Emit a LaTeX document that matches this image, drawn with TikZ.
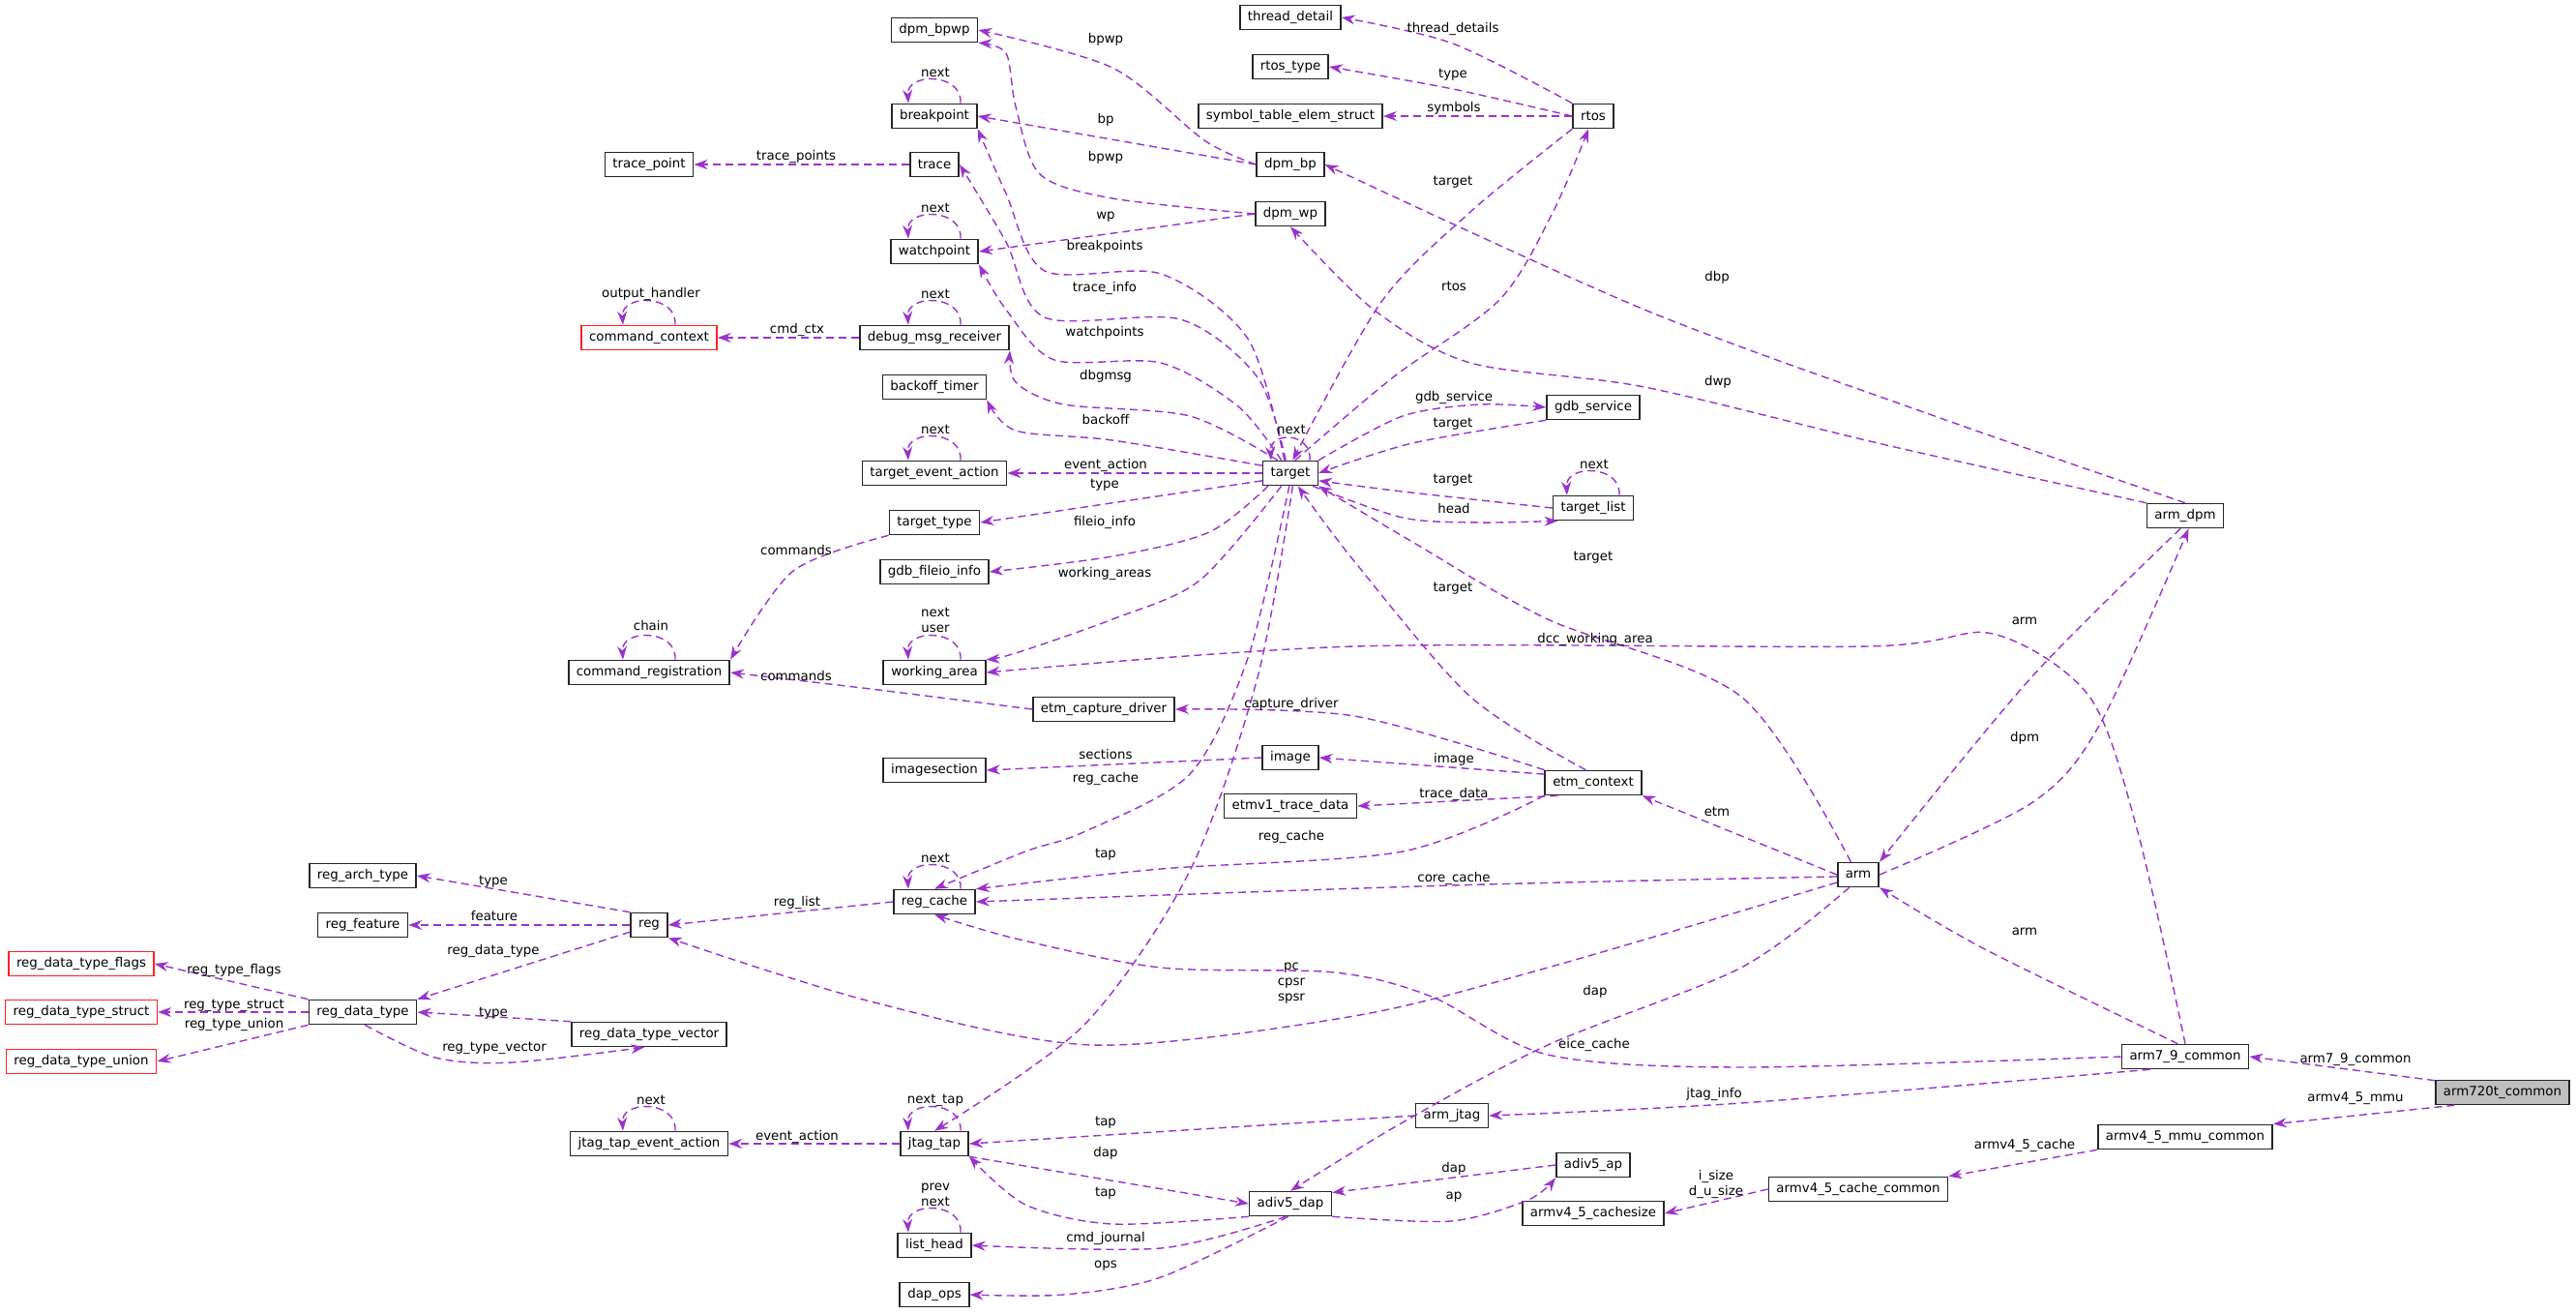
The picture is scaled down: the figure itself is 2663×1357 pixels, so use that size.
\documentclass[tikz,border=0pt]{standalone}
\usepackage{fontspec}
\setmainfont{DejaVu Sans}
\usetikzlibrary{arrows.meta}
\definecolor{ec}{HTML}{9A32CD}
\definecolor{rb}{HTML}{FF2020}
\begin{document}
\begin{tikzpicture}[x=0.01cm,y=-0.01cm,
 box/.style={draw=black!85,line width=0.45pt,minimum height=0.25cm,inner xsep=0.08cm,inner ysep=0pt,font=\fontsize{3.8}{4.2}\selectfont},
 rbox/.style={box,draw=rb},
 lab/.style={inner sep=0pt,font=\fontsize{3.8}{4.6}\selectfont,align=center},
 e/.style={draw=ec,line width=0.4pt,dash pattern=on 0.08cm off 0.05cm,-{Stealth[length=0.14cm,width=0.1cm]}}]
\useasboundingbox (0,0) rectangle (2663,1357);
% nodes
\node[box] (thread_detail) at (1334,18) {thread\_detail};
\node[box] (rtos_type) at (1334,69) {rtos\_type};
\node[box] (symbol) at (1334,120) {symbol\_table\_elem\_struct};
\node[box] (rtos) at (1647,120) {rtos};
\node[box] (dpm_bpwp) at (966,31) {dpm\_bpwp};
\node[box] (breakpoint) at (966,120) {breakpoint};
\node[box] (trace_point) at (671,170) {trace\_point};
\node[box] (trace) at (966,170) {trace};
\node[box] (dpm_bp) at (1334,170) {dpm\_bp};
\node[box] (dpm_wp) at (1334,221) {dpm\_wp};
\node[box] (watchpoint) at (966,260) {watchpoint};
\node[rbox] (command_context) at (671,349) {command\_context};
\node[box] (dmr) at (966,349) {debug\_msg\_receiver};
\node[box] (backoff_timer) at (966,400) {backoff\_timer};
\node[box] (gdb_service) at (1647,421) {gdb\_service};
\node[box] (tea) at (966,489) {target\_event\_action};
\node[box] (target) at (1334,489) {target};
\node[box] (target_list) at (1647,525) {target\_list};
\node[box] (target_type) at (966,540) {target\_type};
\node[box] (arm_dpm) at (2259,533) {arm\_dpm};
\node[box] (gdb_fileio_info) at (966,591) {gdb\_fileio\_info};
\node[box] (working_area) at (966,695) {working\_area};
\node[box] (command_registration) at (671,695) {command\_registration};
\node[box] (etm_capture_driver) at (1141,733) {etm\_capture\_driver};
\node[box] (image) at (1334,783) {image};
\node[box] (imagesection) at (966,796) {imagesection};
\node[box] (etm_context) at (1647,809) {etm\_context};
\node[box] (etmv1) at (1334,833) {etmv1\_trace\_data};
\node[box] (arm) at (1921,904) {arm};
\node[box] (reg_cache) at (966,932) {reg\_cache};
\node[box] (reg_arch_type) at (375,905) {reg\_arch\_type};
\node[box] (reg_feature) at (375,956) {reg\_feature};
\node[box] (reg) at (671,956) {reg};
\node[rbox] (rdt_flags) at (84,996) {reg\_data\_type\_flags};
\node[rbox] (rdt_struct) at (84,1046) {reg\_data\_type\_struct};
\node[rbox] (rdt_union) at (84,1097) {reg\_data\_type\_union};
\node[box] (rdt) at (375,1046) {reg\_data\_type};
\node[box] (rdt_vector) at (671,1069) {reg\_data\_type\_vector};
\node[box] (arm79) at (2259,1092) {arm7\_9\_common};
\node[box,fill=black!25] (arm720t) at (2587,1129) {arm720t\_common};
\node[box] (mmu) at (2259,1175) {armv4\_5\_mmu\_common};
\node[box] (cache_common) at (1921,1229) {armv4\_5\_cache\_common};
\node[box] (arm_jtag) at (1501,1153) {arm\_jtag};
\node[box] (jtea) at (671,1182) {jtag\_tap\_event\_action};
\node[box] (jtag_tap) at (966,1182) {jtag\_tap};
\node[box] (adiv5_ap) at (1647,1204) {adiv5\_ap};
\node[box] (adiv5_dap) at (1334,1244) {adiv5\_dap};
\node[box] (cachesize) at (1647,1254) {armv4\_5\_cachesize};
\node[box] (list_head) at (966,1287) {list\_head};
\node[box] (dap_ops) at (966,1338) {dap\_ops};
% self loops
\foreach \n in {breakpoint,watchpoint,dmr,tea,working_area,reg_cache,jtag_tap,jtea,list_head,command_context,command_registration,target_list}
  \draw[e] ([xshift=0.27cm]\n.north) .. controls +(2,-32) and +(-2,-32) .. ([xshift=-0.27cm]\n.north);
\draw[e] ([xshift=0.2cm]target.north) .. controls +(2,-30) and +(-2,-30) .. ([xshift=-0.2cm]target.north);
% edges
\draw[e] plot[smooth,tension=0.5] coordinates {(rtos.north west) (1502,45) (thread_detail.east)};
\draw[e] plot[smooth,tension=0.5] coordinates {(rtos.west) (1502,92) (rtos_type.east)};
\draw[e] (rtos.west) -- (symbol.east);
\draw[e] plot[smooth,tension=0.5] coordinates {(target.70) (1440,390) (1550,310) (1605,220) (rtos.250)};
\draw[e] plot[smooth,tension=0.5] coordinates {(rtos.south west) (1520,219) (1428,312) (target.80)};
\draw[e] plot[smooth,tension=0.5] coordinates {(dpm_bp.west) (1245,145) (1150,70) (dpm_bpwp.east)};
\draw[e] (dpm_bp.west) -- (breakpoint.east);
\draw[e] plot[smooth,tension=0.5] coordinates {(dpm_wp.west) (1150,205) (1075,180) (1050,110) (1040,55) (dpm_bpwp.south east)};
\draw[e] (dpm_wp.west) -- (watchpoint.east);
\draw[e] plot[smooth,tension=0.5] coordinates {(target.115) (1290,350) (1200,283) (1080,280) (1040,200) (breakpoint.south east)};
\draw[e] plot[smooth,tension=0.5] coordinates {(target.110) (1300,390) (1220,330) (1080,328) (1040,250) (trace.east)};
\draw[e] plot[smooth,tension=0.5] coordinates {(target.125) (1280,420) (1200,375) (1090,372) (1040,320) (watchpoint.south east)};
\draw[e] plot[smooth,tension=0.5] coordinates {(target.135) (1230,430) (1100,418) (1050,395) (dmr.south east)};
\draw[e] plot[smooth,tension=0.5] coordinates {(target.165) (1150,455) (1050,445) (backoff_timer.south east)};
\draw[e] (target.west) -- (tea.east);
\draw[e] (target.195) -- (target_type.east);
\draw[e] plot[smooth,tension=0.5] coordinates {(target.210) (1250,550) (1150,575) (gdb_fileio_info.east)};
\draw[e] plot[smooth,tension=0.5] coordinates {(target.235) (1240,600) (1150,640) (1050,675) (working_area.north east)};
\draw[e] plot[smooth,tension=0.5] coordinates {(target.north east) (1450,430) (1530,418) (gdb_service.west)};
\draw[e] plot[smooth,tension=0.5] coordinates {(gdb_service.south west) (1460,458) (target.east)};
\draw[e] plot[smooth,tension=0.5] coordinates {(target_list.west) (1450,508) (target.345)};
\draw[e] plot[smooth,tension=0.5] coordinates {(target.330) (1450,535) (1530,540) (target_list.200)};
\draw[e] plot[smooth,tension=0.5] coordinates {(etm_context.120) (1520,720) (1400,580) (target.300)};
\draw[e] plot[smooth,tension=0.5] coordinates {(arm.120) (1800,720) (1600,640) (1460,560) (target.south east)};
\draw[e] plot[smooth,tension=0.5] coordinates {(target.265) (1290,680) (1230,800) (1120,860) (1060,880) (reg_cache.north)};
\draw[e] plot[smooth,tension=0.5] coordinates {(target.280) (1300,700) (1230,900) (1120,1060) (jtag_tap.north)};
\draw[e] (trace.west) -- (trace_point.east);
\draw[e] (dmr.west) -- (command_context.east);
\draw[e] plot[smooth,tension=0.5] coordinates {(target_type.south west) (820,590) (command_registration.north east)};
\draw[e] plot[smooth,tension=0.5] coordinates {(etm_capture_driver.west) (900,712) (command_registration.east)};
\draw[e] plot[smooth,tension=0.5] coordinates {(arm_dpm.north) (2000,430) (1700,320) (dpm_bp.east)};
\draw[e] plot[smooth,tension=0.5] coordinates {(arm_dpm.north west) (1950,460) (1700,400) (1520,375) (1420,320) (dpm_wp.south)};
\draw[e] plot[smooth,tension=0.5] coordinates {(arm_dpm.250) (2100,700) (arm.north east)};
\draw[e] plot[smooth,tension=0.5] coordinates {(arm.east) (2100,830) (2170,750) (arm_dpm.285)};
\draw[e] plot[smooth,tension=0.5] coordinates {(arm79.north) (2210,860) (2160,720) (2060,655) (1930,668) (1400,668) (working_area.east)};
\draw[e] plot[smooth,tension=0.5] coordinates {(arm79.120) (2050,980) (arm.south east)};
\draw[e] plot[smooth,tension=0.5] coordinates {(arm79.west) (1800,1103) (1600,1090) (1480,1030) (1380,1005) (1200,1000) (1050,970) (reg_cache.south)};
\draw[e] plot[smooth,tension=0.5] coordinates {(arm79.200) (1800,1140) (arm_jtag.east)};
\draw[e] (arm.west) -- (etm_context.south east);
\draw[e] plot[smooth,tension=0.5] coordinates {(arm.185) (1500,915) (reg_cache.east)};
\draw[e] plot[smooth,tension=0.5] coordinates {(arm.200) (1600,1000) (1400,1050) (1130,1080) (900,1035) (reg.south east)};
\draw[e] plot[smooth,tension=0.5] coordinates {(arm.235) (1800,1000) (1600,1080) (1450,1160) (adiv5_dap.north)};
\draw[e] plot[smooth,tension=0.5] coordinates {(etm_context.north west) (1400,740) (etm_capture_driver.east)};
\draw[e] (etm_context.170) -- (image.east);
\draw[e] (etm_context.200) -- (etmv1.east);
\draw[e] plot[smooth,tension=0.5] coordinates {(etm_context.south west) (1450,880) (1200,898) (reg_cache.north east)};
\draw[e] (image.west) -- (imagesection.east);
\draw[e] (reg_cache.west) -- (reg.east);
\draw[e] (reg.north west) -- (reg_arch_type.east);
\draw[e] (reg.west) -- (reg_feature.east);
\draw[e] (reg.200) -- (rdt.north east);
\draw[e] (rdt.north west) -- (rdt_flags.east);
\draw[e] (rdt.west) -- (rdt_struct.east);
\draw[e] (rdt.south west) -- (rdt_union.east);
\draw[e] plot[smooth,tension=0.5] coordinates {(rdt.280) (450,1093) (530,1098) (rdt_vector.250)};
\draw[e] (rdt_vector.north west) -- (rdt.east);
\draw[e] (arm720t.170) -- (arm79.east);
\draw[e] (arm720t.195) -- (mmu.north east);
\draw[e] (mmu.south west) -- (cache_common.north east);
\draw[e] (cache_common.west) -- (cachesize.east);
\draw[e] (arm_jtag.west) -- (jtag_tap.east);
\draw[e] (jtag_tap.west) -- (jtea.east);
\draw[e] (jtag_tap.south east) -- (adiv5_dap.west);
\draw[e] plot[smooth,tension=0.5] coordinates {(adiv5_dap.south west) (1150,1265) (1060,1245) (jtag_tap.340)};
\draw[e] plot[smooth,tension=0.5] coordinates {(adiv5_dap.250) (1200,1290) (list_head.east)};
\draw[e] plot[smooth,tension=0.5] coordinates {(adiv5_dap.260) (1200,1320) (1100,1338) (dap_ops.east)};
\draw[e] plot[smooth,tension=0.5] coordinates {(adiv5_dap.south east) (1500,1262) (1580,1240) (adiv5_ap.south west)};
\draw[e] (adiv5_ap.west) -- (adiv5_dap.15);
% labels
\foreach \p/\t in {(1143,41)/bpwp,(1502,30)/thread\_details,(1502,77)/type,(1503,112)/symbols,(1143,124)/bp,(1143,163)/bpwp,(1502,188)/target,(1143,224)/wp,(1142,255)/breakpoints,(1775,287)/dbp,(1503,296)/rtos,(1142,298)/trace\_info,(1142,344)/watchpoints,(1143,389)/dbgmsg,(1776,395)/dwp,(1503,411)/gdb\_service,(1143,434)/backoff,(1502,438)/target,(1335,444)/next,(1143,481)/event\_action,(1502,496)/target,(1142,501)/type,(1503,526)/head,(1142,540)/fileio\_info,(1647,576)/target,(1142,593)/working\_areas,(1502,608)/target,(1649,661)/dcc\_working\_area,(967,75)/next,(967,215)/next,(967,304)/next,(967,444)/next,(1648,480)/next,(823,162)/trace\_points,(673,304)/output\_handler,(824,341)/cmd\_ctx,(823,569)/commands,(673,647)/chain,(823,699)/commands,(510,911)/type,(824,933)/reg\_list,(511,947)/feature,(510,983)/reg\_data\_type,(242,1003)/reg\_type\_flags,(242,1039)/reg\_type\_struct,(510,1047)/type,(242,1059)/reg\_type\_union,(511,1083)/reg\_type\_vector,(673,1137)/next,(824,1175)/event\_action,(1335,728)/capture\_driver,(1143,780)/sections,(1503,785)/image,(1143,805)/reg\_cache,(1503,821)/trace\_data,(1775,839)/etm,(1335,865)/reg\_cache,(1143,883)/tap,(967,887)/next,(1503,908)/core\_cache,(1649,1025)/dap,(1648,1080)/eice\_cache,(1772,1131)/jtag\_info,(967,1137)/next\_tap,(1143,1160)/tap,(1143,1192)/dap,(1503,1208)/dap,(1143,1233)/tap,(1503,1237)/ap,(1143,1280)/cmd\_journal,(1143,1308)/ops,(2093,642)/arm,(2093,763)/dpm,(2093,963)/arm,(2435,1095)/arm7\_9\_common,(2435,1135)/armv4\_5\_mmu,(2093,1184)/armv4\_5\_cache}
  \node[lab] at \p {\t};
\node[lab] (l1) at (967,641) {next\\user};
\node[lab] (l2) at (967,1235) {prev\\next};
\node[lab] (l3) at (1335,1016) {pc\\cpsr\\spsr};
\node[lab] (l4) at (1774,1224) {i\_size\\d\_u\_size};
\end{tikzpicture}
\end{document}
